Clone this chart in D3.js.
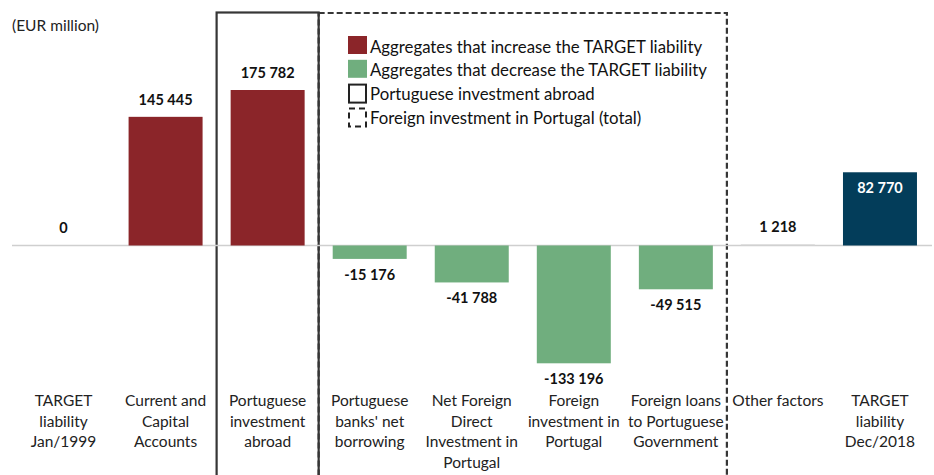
<!DOCTYPE html>
<html>
<head>
<meta charset="utf-8">
<script src="https://cdn.jsdelivr.net/npm/d3@7.9.0/dist/d3.min.js"></script>
<style>
  body { margin: 0; background: #fff; }
  svg { font-family: Lato, "Open Sans", sans-serif; }
</style>
</head>
<body>
<svg width="934" height="475"></svg>
<script>
// Chart data
const categories = [
  ["TARGET", "liability", "Jan/1999"],
  ["Current and", "Capital", "Accounts"],
  ["Portuguese", "investment", "abroad"],
  ["Portuguese", "banks' net", "borrowing"],
  ["Net Foreign", "Direct", "Investment in", "Portugal"],
  ["Foreign", "investment in", "Portugal"],
  ["Foreign loans", "to Portuguese", "Government"],
  ["Other factors"],
  ["TARGET", "liability", "Dec/2018"]
];
const values = [0, 145445, 175782, -15176, -41788, -133196, -49515, 1218, 82770];
const kinds = ["none", "up", "up", "down", "down", "down", "down", "other", "total"];
const legendLabels = [
  "Aggregates that increase the TARGET liability",
  "Aggregates that decrease the TARGET liability",
  "Portuguese investment abroad",
  "Foreign investment in Portugal (total)"
];

const colors = { none: "#8b2529", up: "#8b2529", down: "#70ae7e", other: "#d4d4d4", total: "#033d5a" };
const fmt = (v) => (v < 0 ? "-" : "") + d3.format(",")(Math.abs(v)).replace(/,/g, " ");

const svg = d3.select("svg");
const idx = d3.range(categories.length);

// Scales
const x = d3.scaleBand().domain(idx).range([12.5, 931]).paddingInner(0.275).paddingOuter(0.1375);
const y = d3.scaleLinear().domain([-133196, 175782]).range([363.3, 90]);
const step = x.step();
const bandLeft = (i) => x(i) - x.paddingInner() * step / 2;

// Group boxes
svg.append("rect")
  .attr("x", bandLeft(2)).attr("y", 12.5)
  .attr("width", step).attr("height", 480)
  .attr("fill", "none").attr("stroke", "#363636").attr("stroke-width", 2.2);

svg.append("rect")
  .attr("x", bandLeft(3)).attr("y", 13)
  .attr("width", step * 4).attr("height", 480)
  .attr("fill", "none").attr("stroke", "#363636").attr("stroke-width", 2.2)
  .attr("stroke-dasharray", "6,3");

// Baseline
svg.append("line")
  .attr("x1", 12).attr("x2", 932)
  .attr("y1", y(0)).attr("y2", y(0))
  .attr("stroke", "#cfcfcf").attr("stroke-width", 1.5);

// Bars
svg.selectAll(".bar")
  .data(idx)
  .enter()
  .append("rect")
  .attr("class", "bar")
  .attr("x", (i) => x(i))
  .attr("width", x.bandwidth())
  .attr("y", (i) => y(Math.max(0, values[i])))
  .attr("height", (i) => Math.abs(y(values[i]) - y(0)))
  .attr("fill", (i) => colors[kinds[i]]);

// Value labels
svg.selectAll(".val")
  .data(idx)
  .enter()
  .append("text")
  .attr("class", "val")
  .attr("x", (i) => x(i) + x.bandwidth() / 2)
  .attr("y", (i) => {
    if (kinds[i] === "total") return y(values[i]) + 21;
    return values[i] >= 0 ? y(values[i]) - 12 : y(values[i]) + 21;
  })
  .attr("text-anchor", "middle")
  .attr("font-size", 14.5)
  .attr("font-weight", "bold")
  .attr("fill", (i) => kinds[i] === "total" ? "#fff" : "#111")
  .text((i) => fmt(values[i]));

// Category labels
const cat = svg.selectAll(".cat")
  .data(idx)
  .enter()
  .append("text")
  .attr("class", "cat")
  .attr("text-anchor", "middle")
  .attr("font-size", 15.5)
  .attr("fill", "#222");

cat.selectAll("tspan")
  .data((i) => categories[i].map((t) => ({ t, i })))
  .enter()
  .append("tspan")
  .attr("x", (d) => x(d.i) + x.bandwidth() / 2)
  .attr("y", (d, k) => 406 + k * 20.5)
  .text((d) => d.t);

// Unit label
svg.append("text")
  .attr("x", 12).attr("y", 31)
  .attr("font-size", 15.5).attr("fill", "#222")
  .text("(EUR million)");

// Legend
const legend = svg.append("g").attr("transform", "translate(348, 36)");
const legendRow = 23.8;
legendLabels.forEach((label, k) => {
  const g = legend.append("g").attr("transform", `translate(0, ${k * legendRow})`);
  if (k < 2) {
    g.append("rect").attr("width", 19).attr("height", 18)
      .attr("fill", k === 0 ? colors.up : colors.down);
  } else {
    g.append("rect").attr("x", 1).attr("y", 1).attr("width", 17).attr("height", 18)
      .attr("fill", "none").attr("stroke", "#222").attr("stroke-width", 2)
      .attr("stroke-dasharray", k === 3 ? "6,4" : null);
  }
  g.append("text")
    .attr("x", 22).attr("y", 16.5)
    .attr("font-size", 16.8).attr("fill", "#111")
    .text(label);
});
</script>
</body>
</html>
